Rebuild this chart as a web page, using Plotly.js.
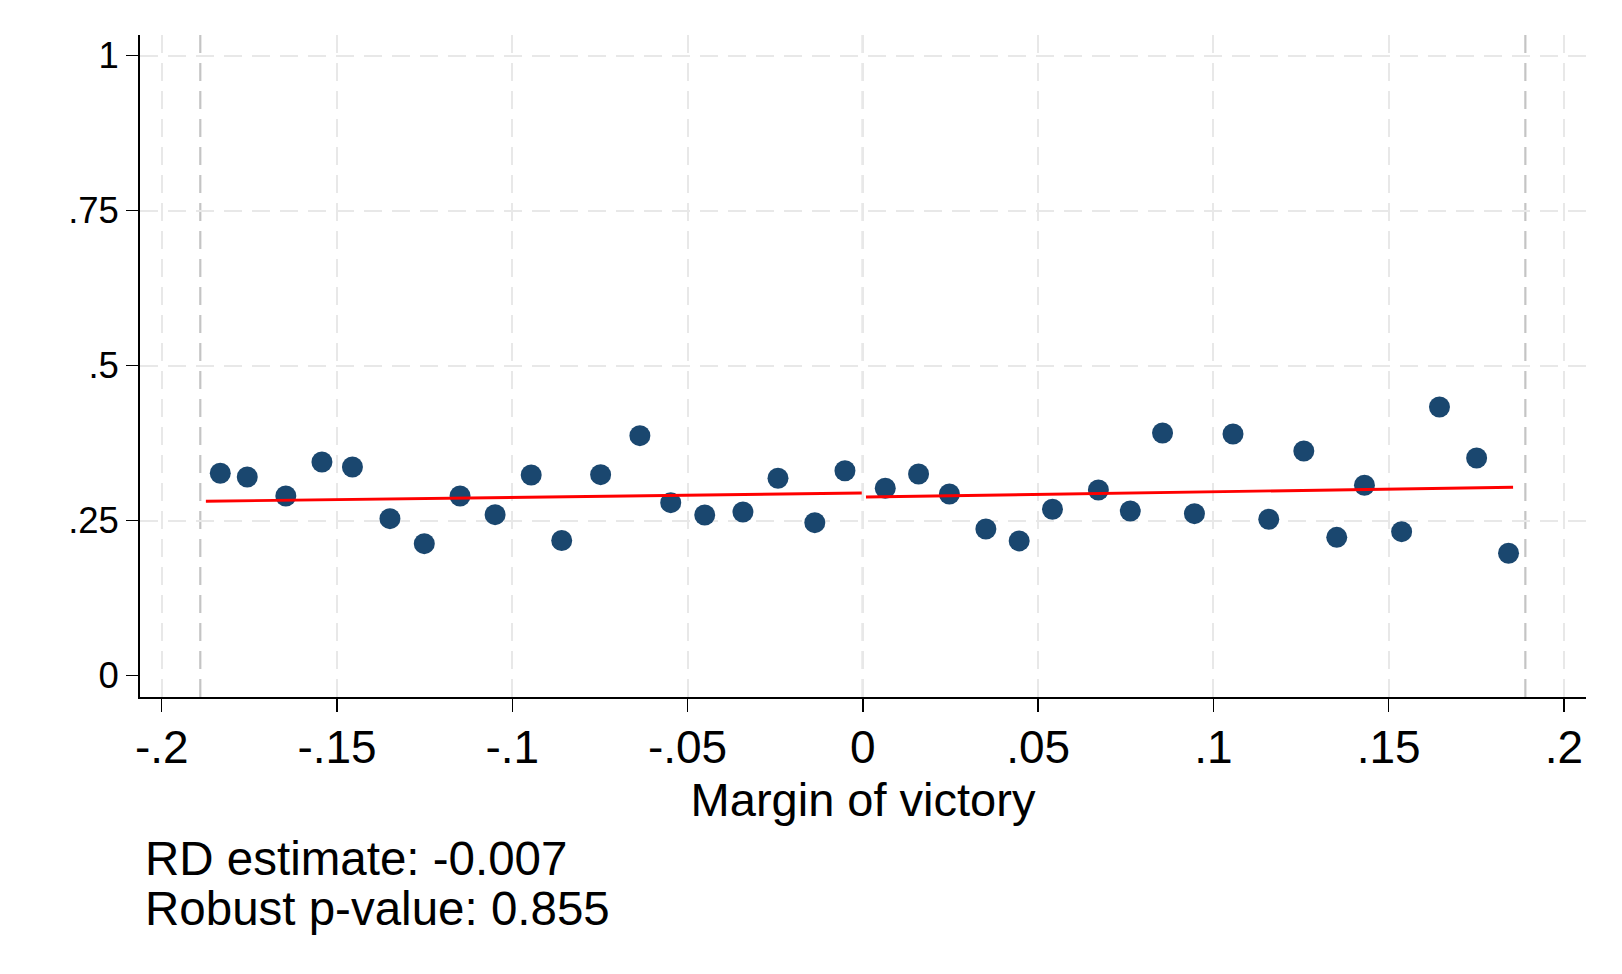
<!DOCTYPE html>
<html>
<head>
<meta charset="utf-8">
<script src="https://cdn.plot.ly/plotly-3.0.1.min.js"></script>
<style>
  html, body { margin: 0; padding: 0; background: #ffffff; }
  #chart { width: 1622px; height: 974px; }
</style>
</head>
<body>
<div id="chart"></div>
<script>
// ---- Data ----
var leftX  = [-0.1833, -0.1756, -0.1646, -0.1543, -0.1456, -0.1349, -0.1251, -0.1149, -0.1049, -0.0946,
              -0.0859, -0.0748, -0.0636, -0.0548, -0.0451, -0.0342, -0.0242, -0.0137, -0.0051];
var leftY  = [0.3265, 0.3205, 0.2898, 0.3447, 0.3366, 0.2532, 0.2129, 0.2898, 0.2597, 0.3237,
              0.2181, 0.3242, 0.3871, 0.2790, 0.2592, 0.2640, 0.3184, 0.2468, 0.3306];
var rightX = [0.0064, 0.0159, 0.0247, 0.0351, 0.0446, 0.0541, 0.0672, 0.0763, 0.0855, 0.0946,
              0.1056, 0.1158, 0.1258, 0.1352, 0.1431, 0.1537, 0.1645, 0.1751, 0.1842];
var rightY = [0.3023, 0.3253, 0.2931, 0.2366, 0.2173, 0.2684, 0.2995, 0.2656, 0.3915, 0.2613,
              0.3898, 0.2523, 0.3624, 0.2232, 0.3071, 0.2323, 0.4334, 0.3511, 0.1974];

var fitLeftX  = [-0.1874, -0.0003];
var fitLeftY  = [0.2813, 0.2947];
var fitRightX = [0.0009, 0.1855];
var fitRightY = [0.2882, 0.3039];

var cutoffLines = [-0.189, 0, 0.189];

var xTickVals = [-0.2, -0.15, -0.1, -0.05, 0, 0.05, 0.1, 0.15, 0.2];
var xTickText = ["-.2", "-.15", "-.1", "-.05", "0", ".05", ".1", ".15", ".2"];
var yTickVals = [0, 0.25, 0.5, 0.75, 1];
var yTickText = ["0", ".25", ".5", ".75", "1"];

var xTitle = "Margin of victory";
var noteLines = ["RD estimate: -0.007", "Robust p-value: 0.855"];

// ---- Chart ----
var FONT = "Liberation Sans, Arial, Helvetica, sans-serif";
var NAVY = "#1a476f";

var traces = [
  { x: leftX, y: leftY, type: "scatter", mode: "markers",
    marker: { color: NAVY, size: 21, line: { width: 0 } }, hoverinfo: "skip" },
  { x: rightX, y: rightY, type: "scatter", mode: "markers",
    marker: { color: NAVY, size: 21, line: { width: 0 } }, hoverinfo: "skip" },
  { x: fitLeftX, y: fitLeftY, type: "scatter", mode: "lines",
    line: { color: "#ff0000", width: 2.9 }, hoverinfo: "skip" },
  { x: fitRightX, y: fitRightY, type: "scatter", mode: "lines",
    line: { color: "#ff0000", width: 2.9 }, hoverinfo: "skip" }
];

var shapes = cutoffLines.map(function (v) {
  return { type: "line", xref: "x", yref: "paper", x0: v, x1: v, y0: 1, y1: 0,
           layer: "between", line: { color: "#c4c4c4", width: 2.2, dash: "18px,10px" } };
});

var annotations = noteLines.map(function (t, i) {
  return { text: t, xref: "paper", yref: "paper", x: 0.002, y: -0.2445 - i * 0.0745,
           xanchor: "left", yanchor: "middle", showarrow: false,
           font: { family: FONT, size: 47.5, color: "#000000" } };
});

var layout = {
  width: 1622, height: 974,
  margin: { l: 140, r: 36, t: 35, b: 277, pad: 0 },
  paper_bgcolor: "#ffffff", plot_bgcolor: "#ffffff",
  showlegend: false,
  font: { family: FONT, color: "#000000" },
  xaxis: {
    range: [-0.2062, 0.2063],
    tickvals: xTickVals, ticktext: xTickText,
    ticks: "outside", ticklen: 13, tickwidth: 1.5, tickcolor: "#000000",
    ticklabelstandoff: -4,
    tickfont: { family: FONT, size: 46, color: "#000000" },
    showline: true, linecolor: "#000000", linewidth: 1.8,
    showgrid: true, gridcolor: "#e8e8e8", gridwidth: 2, griddash: "18px,10px",
    zeroline: false,
    title: { text: xTitle, font: { family: FONT, size: 47, color: "#000000" }, standoff: 10 }
  },
  yaxis: {
    range: [-0.0344, 1.0334],
    tickvals: yTickVals, ticktext: yTickText,
    ticks: "outside", ticklen: 12, tickwidth: 1.5, tickcolor: "#000000",
    tickfont: { family: FONT, size: 36.5, color: "#000000" },
    showline: true, linecolor: "#000000", linewidth: 1.8,
    showgrid: true, gridcolor: "#e8e8e8", gridwidth: 2, griddash: "18px,10px",
    zeroline: true, zerolinecolor: "#ffffff", zerolinewidth: 4
  },
  shapes: shapes,
  annotations: annotations
};

Plotly.newPlot("chart", traces, layout, { staticPlot: true, displayModeBar: false });
</script>
</body>
</html>
